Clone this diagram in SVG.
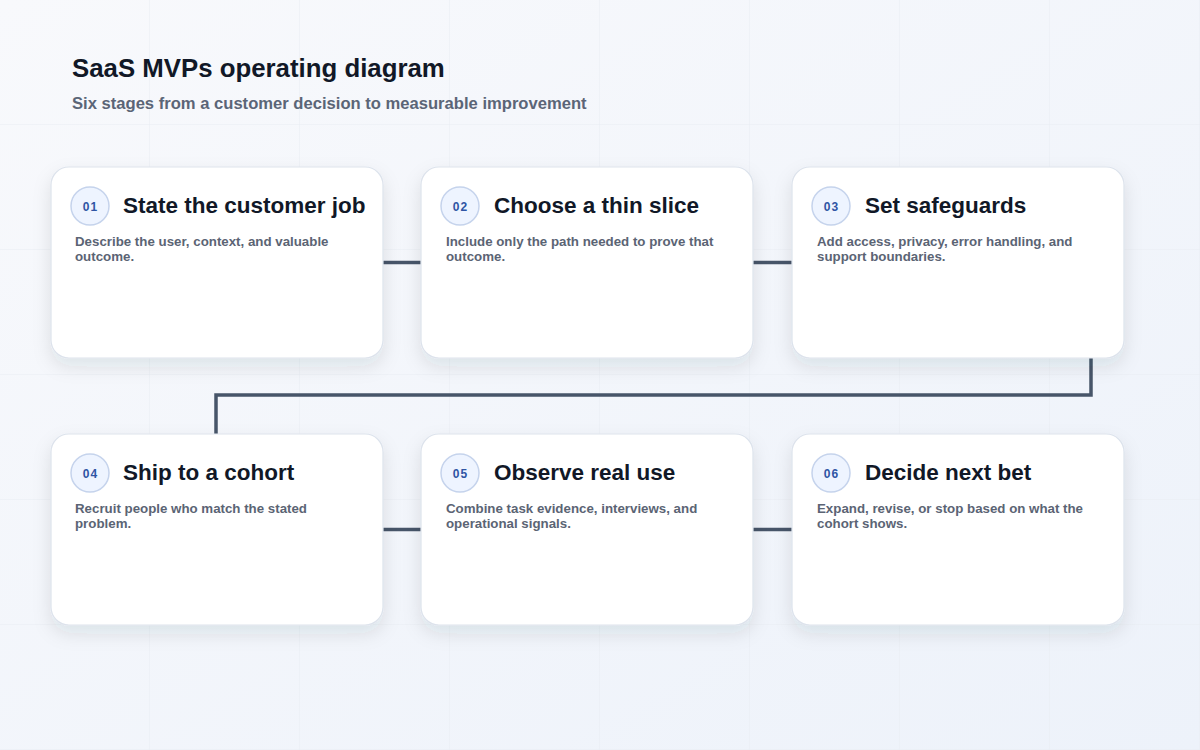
<svg xmlns="http://www.w3.org/2000/svg" width="1200" height="750" viewBox="0 0 1200 750">
<defs>
<linearGradient id="bg" x1="0" y1="0" x2="1" y2="1">
<stop offset="0" stop-color="#f8f9fc"/>
<stop offset="1" stop-color="#edf2fa"/>
</linearGradient>
<pattern id="grid" x="0" y="0" width="150" height="125" patternUnits="userSpaceOnUse">
<path d="M150 0 V125 M0 125 H150" fill="none" stroke="#e9edf3" stroke-width="1"/>
</pattern>
<filter id="shadow" x="-20%" y="-20%" width="140%" height="150%">
<feDropShadow dx="0" dy="8" stdDeviation="9" flood-color="#1e293b" flood-opacity="0.10"/>
</filter>
<style>
.card{fill:#ffffff;stroke:#dde3ec;stroke-width:1.2;filter:url(#shadow)}
.badge{fill:#eef4ff;stroke:#c5d3ec;stroke-width:1.5}
.num{font-family:"Liberation Sans",Arial,sans-serif;font-weight:700;font-size:12px;fill:#2f55a4;letter-spacing:1px;text-anchor:middle}
.ttl{font-family:"Liberation Sans",Arial,sans-serif;font-weight:700;font-size:22.5px;fill:#111827}
.desc{font-family:"Liberation Sans",Arial,sans-serif;font-weight:700;font-size:13.3px;fill:#5b6474}
.conn{fill:none;stroke:#475569;stroke-width:3.5}
</style>
</defs>
<rect width="1200" height="750" fill="url(#bg)"/>
<rect width="1200" height="750" fill="url(#grid)"/>
<text x="72" y="77" font-family="Liberation Sans, Arial, sans-serif" font-weight="700" font-size="25.8" fill="#111827">SaaS MVPs operating diagram</text>
<text x="72" y="109" font-family="Liberation Sans, Arial, sans-serif" font-weight="700" font-size="16.6" fill="#5b6577">Six stages from a customer decision to measurable improvement</text>
<g id="connectors">
<path class="conn" d="M383 262.5 H421"/>
<path class="conn" d="M753 262.5 H792"/>
<path class="conn" d="M1091 358 V395 H216 V434"/>
<path class="conn" d="M383 529.5 H421"/>
<path class="conn" d="M753 529.5 H792"/>
</g>
<g id="node1">
<rect class="card" x="51" y="167" width="332" height="191" rx="18"/>
<circle class="badge" cx="90" cy="206" r="19"/>
<text class="num" x="90.5" y="210.5">01</text>
<text class="ttl" x="123" y="213">State the customer job</text>
<text class="desc" x="75" y="246">Describe the user, context, and valuable</text>
<text class="desc" x="75" y="261">outcome.</text>
</g>
<g id="node2">
<rect class="card" x="421" y="167" width="332" height="191" rx="18"/>
<circle class="badge" cx="460" cy="206" r="19"/>
<text class="num" x="460.5" y="210.5">02</text>
<text class="ttl" x="494" y="213">Choose a thin slice</text>
<text class="desc" x="446" y="246">Include only the path needed to prove that</text>
<text class="desc" x="446" y="261">outcome.</text>
</g>
<g id="node3">
<rect class="card" x="792" y="167" width="332" height="191" rx="18"/>
<circle class="badge" cx="831" cy="206" r="19"/>
<text class="num" x="831.5" y="210.5">03</text>
<text class="ttl" x="865" y="213">Set safeguards</text>
<text class="desc" x="817" y="246">Add access, privacy, error handling, and</text>
<text class="desc" x="817" y="261">support boundaries.</text>
</g>
<g id="node4">
<rect class="card" x="51" y="434" width="332" height="191" rx="18"/>
<circle class="badge" cx="90" cy="473" r="19"/>
<text class="num" x="90.5" y="477.5">04</text>
<text class="ttl" x="123" y="480">Ship to a cohort</text>
<text class="desc" x="75" y="513">Recruit people who match the stated</text>
<text class="desc" x="75" y="528">problem.</text>
</g>
<g id="node5">
<rect class="card" x="421" y="434" width="332" height="191" rx="18"/>
<circle class="badge" cx="460" cy="473" r="19"/>
<text class="num" x="460.5" y="477.5">05</text>
<text class="ttl" x="494" y="480">Observe real use</text>
<text class="desc" x="446" y="513">Combine task evidence, interviews, and</text>
<text class="desc" x="446" y="528">operational signals.</text>
</g>
<g id="node6">
<rect class="card" x="792" y="434" width="332" height="191" rx="18"/>
<circle class="badge" cx="831" cy="473" r="19"/>
<text class="num" x="831.5" y="477.5">06</text>
<text class="ttl" x="865" y="480">Decide next bet</text>
<text class="desc" x="817" y="513">Expand, revise, or stop based on what the</text>
<text class="desc" x="817" y="528">cohort shows.</text>
</g>
</svg>
